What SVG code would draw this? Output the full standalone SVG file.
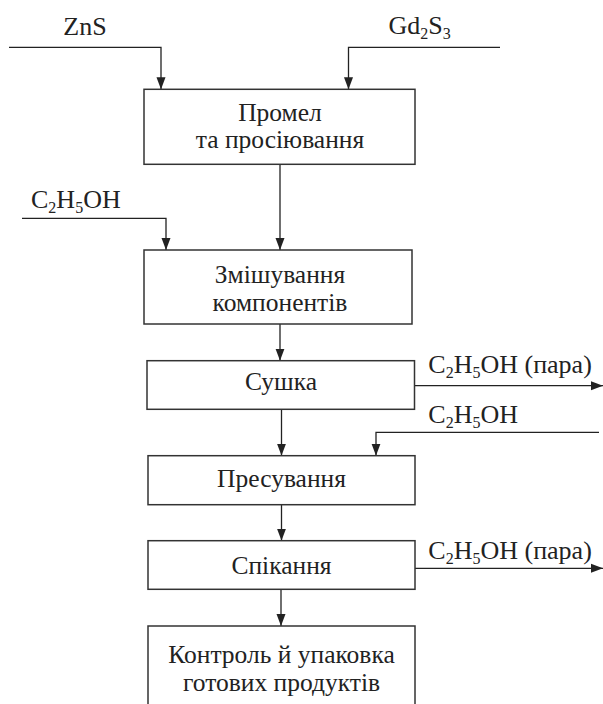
<svg xmlns="http://www.w3.org/2000/svg" width="603" height="704" viewBox="0 0 603 704">
<style>
text{font-family:'Liberation Serif','Times New Roman','DejaVu Serif',serif;font-size:25.5px;fill:#222}
.lb{font-size:26px}
.c{text-anchor:middle}
.s{font-size:16px}
.box{fill:#fff;stroke:#333;stroke-width:1.5}
.ln{fill:none;stroke:#222;stroke-width:1.3}
</style>
<defs>
<marker id="ah" viewBox="0 0 12 10" refX="12" refY="5" markerWidth="12" markerHeight="10" markerUnits="userSpaceOnUse" orient="auto">
<path d="M0,0.5 L12,5 L0,9.5 Z" fill="#222"/>
</marker>
</defs>
<rect width="603" height="704" fill="#fff"/>
<g id="connectors">
<path class="ln" d="M9,47.3 H161 V89.3" marker-end="url(#ah)"/>
<path class="ln" d="M500,47.3 H348.5 V89.3" marker-end="url(#ah)"/>
<path class="ln" d="M280,164.3 V250" marker-end="url(#ah)"/>
<path class="ln" d="M22,218.3 H166 V250" marker-end="url(#ah)"/>
<path class="ln" d="M280,324 V360.7" marker-end="url(#ah)"/>
<path class="ln" d="M414.5,385.7 H603" marker-end="url(#ah)"/>
<path class="ln" d="M281.5,409.3 V455.7" marker-end="url(#ah)"/>
<path class="ln" d="M599,432.3 H376 V455.7" marker-end="url(#ah)"/>
<path class="ln" d="M281.5,504.7 V540.7" marker-end="url(#ah)"/>
<path class="ln" d="M415,568.3 H603" marker-end="url(#ah)"/>
<path class="ln" d="M281,589.3 V626" marker-end="url(#ah)"/>
</g>
<g id="labels">
<text x="85" y="34.7" class="c lb">ZnS</text>
<text x="388.5" y="33.5" class="lb">Gd<tspan class="s" dy="5">2</tspan><tspan dy="-5">S</tspan><tspan class="s" dy="5">3</tspan></text>
<text x="31" y="208.3" class="lb">C<tspan class="s" dy="5">2</tspan><tspan dy="-5">H</tspan><tspan class="s" dy="5">5</tspan><tspan dy="-5">OH</tspan></text>
<text x="428.3" y="373.3" class="lb">C<tspan class="s" dy="5">2</tspan><tspan dy="-5">H</tspan><tspan class="s" dy="5">5</tspan><tspan dy="-5">OH (пара)</tspan></text>
<text x="428.3" y="422.7" class="lb">C<tspan class="s" dy="5">2</tspan><tspan dy="-5">H</tspan><tspan class="s" dy="5">5</tspan><tspan dy="-5">OH</tspan></text>
<text x="428.3" y="559" class="lb">C<tspan class="s" dy="5">2</tspan><tspan dy="-5">H</tspan><tspan class="s" dy="5">5</tspan><tspan dy="-5">OH (пара)</tspan></text>
</g>
<g id="n1">
<rect class="box" x="144" y="89.3" width="271" height="75"/>
<text x="280" y="120.7" class="c">Промел</text>
<text x="280" y="148.3" class="c">та просіювання</text>
</g>
<g id="n2">
<rect class="box" x="144" y="250" width="268" height="74"/>
<text x="280" y="283" class="c">Змішування</text>
<text x="280" y="311" class="c">компонентів</text>
</g>
<g id="n3">
<rect class="box" x="147" y="360.7" width="267.5" height="48.6"/>
<text x="281" y="390" class="c">Сушка</text>
</g>
<g id="n4">
<rect class="box" x="148" y="455.7" width="267" height="49"/>
<text x="281.5" y="486.7" class="c">Пресування</text>
</g>
<g id="n5">
<rect class="box" x="148" y="540.7" width="267" height="48.6"/>
<text x="281.5" y="574" class="c">Спікання</text>
</g>
<g id="n6">
<rect class="box" x="148" y="626" width="267" height="100"/>
<text x="281.5" y="663" class="c">Контроль й упаковка</text>
<text x="281.5" y="690.7" class="c">готових продуктів</text>
</g>
</svg>
